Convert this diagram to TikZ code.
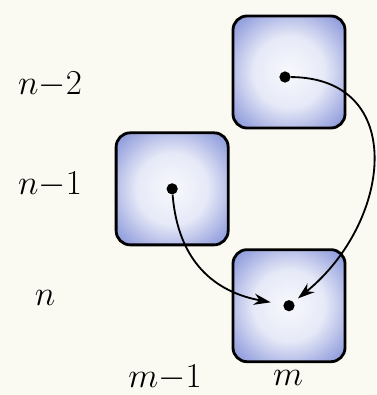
\documentclass[tikz,border=0pt]{standalone}
\usepackage{tikz}
\usetikzlibrary{arrows.meta,positioning}
\definecolor{paper}{HTML}{FAFAF2}
\definecolor{cellb}{HTML}{4A5FC6}
\pgfdeclareradialshading{cellshade}{\pgfpoint{0bp}{0bp}}{%
  color(0bp)=(white!96!cellb); color(16bp)=(white!86!cellb); color(30bp)=(cellb!55);
  color(42bp)=(cellb!85); color(50bp)=(cellb); color(72bp)=(cellb)}

\begin{document}
\begin{tikzpicture}[x=0.025cm,y=-0.025cm,>=Stealth,
  cell/.style={draw=black,line width=2pt,rounded corners=10pt,shading=cellshade,
    minimum size=2.8cm,inner sep=0pt},
  dot/.style={circle,fill=black,inner sep=0pt,minimum size=8pt},
  lbl/.style={font=\fontsize{30}{34}\selectfont},
  arr/.style={-{Stealth[length=12pt,width=8pt]},line width=1.3pt}]
  \useasboundingbox (0,0) rectangle (376,395);
  \fill[paper] (0,0) rectangle (376,395);
  % cells of the grid
  \node[cell] (top) at (289,72) {};
  \node[cell,below left=0.5mm and 0.5mm of top] (mid) {};
  \node[cell,below right=0.5mm and 0.5mm of mid] (bot) {};
  \node[dot] (d2) at ([shift={(-4,5)}]top.center) {};
  \node[dot] (d1) at (mid.center) {};
  \node[dot] (d0) at (bot.center) {};
  \draw[arr,shorten >=4pt] (d2) .. controls (408,78) and (392,222) .. (d0);
  \draw[arr,shorten >=9pt] (d1) .. controls (178,262) and (215,292) .. (d0);
  % indices
  \node[lbl] (r2) at (50,85) {$n{-}2$};
  \node[lbl] (r1) at (50,185) {$n{-}1$};
  \node[lbl] (r0) at (45,298) {$n$};
  \node[lbl] (c1) at (165,378) {$m{-}1$};
  \node[lbl] (c0) at (288,378) {$m$};
\end{tikzpicture}
\end{document}
